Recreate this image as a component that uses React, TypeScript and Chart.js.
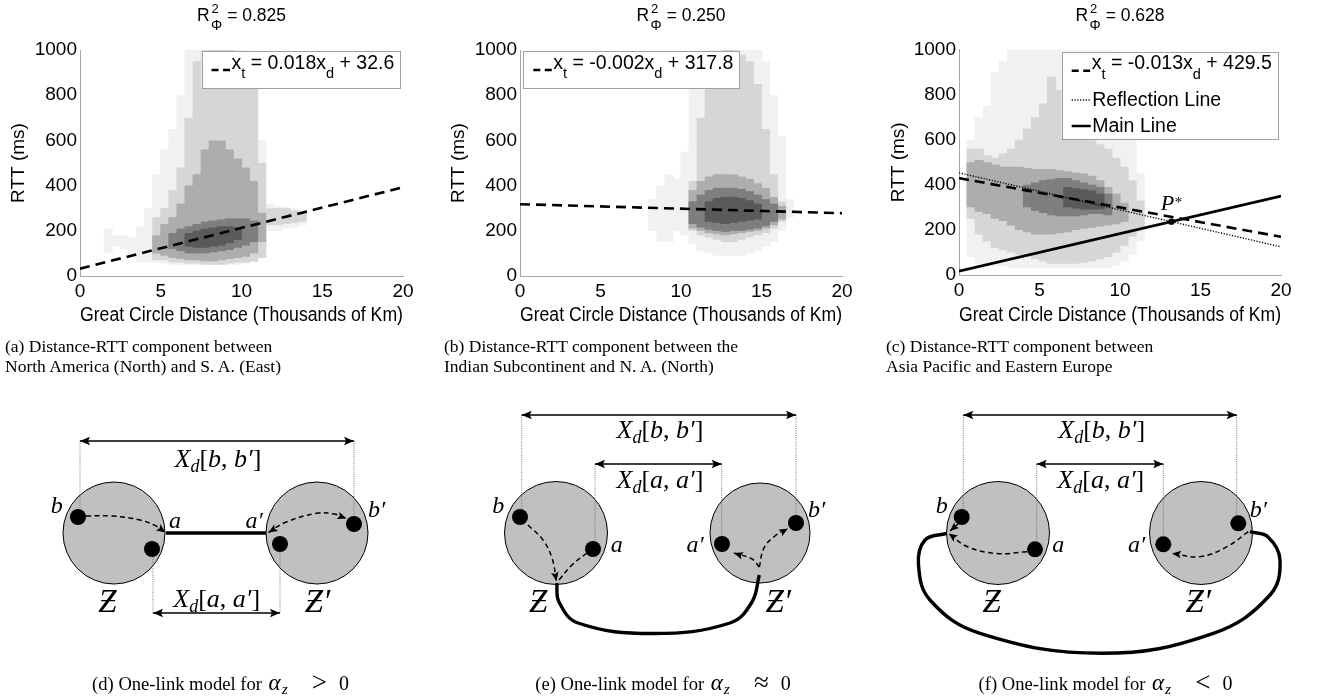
import React, { useEffect, useRef } from 'react';
import { Chart, registerables } from 'chart.js';

Chart.register(...registerables);

const SANS = "'Liberation Sans', Arial, Helvetica, sans-serif";
const SERIF = "'Liberation Serif', 'Times New Roman', 'DejaVu Serif', serif";

// ---------------- top row: data ----------------
const xRange = [0, 20];
const yRange = [0, 1000];
const xTickStep = 5;
const yTickStep = 200;
const xAxisTitle = 'Great Circle Distance (Thousands of Km)';
const yAxisTitle = 'RTT (ms)';

const r2Labels = ['0.825', '0.250', '0.628'];
const fitSlopes = [0.018, -0.002, -0.013];
const fitIntercepts = [32.6, 317.8, 429.5];
const reflectionLine = [[0, 453], [20, 125]];
const mainLine = [[0, 17], [20, 350]];
const pStar = [13.19, 236.6];

// density bins: [bin start (thousands km), low RTT, high RTT]; bin width 0.5
const BIN = 0.5;
type Bin = [number, number, number];

const aSparse: Bin[] = [[1.5, 100, 210], [2.0, 130, 180], [2.5, 120, 180], [3.0, 80, 170], [3.5, 60, 220], [4.0, 60, 300], [4.5, 60, 450], [5.0, 55, 560], [5.5, 50, 650], [6.0, 50, 800], [6.5, 50, 1000], [7.0, 50, 1000], [7.5, 50, 1000], [8.0, 50, 1000], [8.5, 50, 1000], [9.0, 50, 1000], [9.5, 50, 1000], [10.0, 55, 1000], [10.5, 60, 950], [11.0, 90, 600], [11.5, 200, 320], [12.0, 200, 310], [12.5, 210, 305], [13.0, 215, 300], [13.5, 225, 290]];
const aLight: Bin[] = [[4.5, 70, 260], [5.0, 70, 300], [5.5, 60, 380], [6.0, 60, 480], [6.5, 55, 700], [7.0, 55, 950], [7.5, 50, 1000], [8.0, 50, 1000], [8.5, 50, 1000], [9.0, 55, 1000], [9.5, 60, 980], [10.0, 60, 950], [10.5, 65, 900], [11.0, 80, 500], [11.5, 225, 300], [12.0, 225, 300], [12.5, 230, 300], [13.0, 235, 290], [13.5, 240, 285]];
const aMedium: Bin[] = [[4.5, 100, 180], [5.0, 90, 230], [5.5, 80, 260], [6.0, 75, 320], [6.5, 70, 400], [7.0, 70, 450], [7.5, 65, 560], [8.0, 65, 600], [8.5, 70, 600], [9.0, 75, 560], [9.5, 80, 520], [10.0, 85, 480], [10.5, 100, 420], [11.0, 150, 280]];
const aDark: Bin[] = [[5.5, 120, 190], [6.0, 110, 210], [6.5, 100, 220], [7.0, 100, 230], [7.5, 100, 240], [8.0, 105, 245], [8.5, 110, 250], [9.0, 115, 255], [9.5, 125, 255], [10.0, 135, 255], [10.5, 150, 245]];
const aCore: Bin[] = [[6.5, 130, 190], [7.0, 125, 200], [7.5, 125, 210], [8.0, 130, 215], [8.5, 135, 220], [9.0, 145, 220], [9.5, 160, 215]];

const bSparse: Bin[] = [[8.0, 200, 340], [8.5, 150, 400], [9.0, 150, 450], [9.5, 200, 430], [10.0, 180, 550], [10.5, 140, 900], [11.0, 110, 1000], [11.5, 100, 1000], [12.0, 90, 1000], [12.5, 90, 1000], [13.0, 90, 1000], [13.5, 90, 1000], [14.0, 100, 1000], [14.5, 110, 1000], [15.0, 130, 950], [15.5, 150, 800], [16.0, 200, 620], [16.5, 260, 340]];
const bLight: Bin[] = [[10.5, 200, 420], [11.0, 180, 700], [11.5, 170, 850], [12.0, 160, 950], [12.5, 150, 1000], [13.0, 150, 1000], [13.5, 160, 980], [14.0, 170, 950], [14.5, 180, 850], [15.0, 190, 650], [15.5, 210, 450], [16.0, 240, 330]];
const bMedium: Bin[] = [[10.5, 210, 380], [11.0, 200, 420], [11.5, 190, 440], [12.0, 185, 450], [12.5, 180, 450], [13.0, 185, 450], [13.5, 190, 440], [14.0, 195, 430], [14.5, 200, 410], [15.0, 210, 390], [15.5, 225, 350], [16.0, 250, 310]];
const bDark: Bin[] = [[10.5, 230, 330], [11.0, 215, 360], [11.5, 205, 380], [12.0, 200, 390], [12.5, 195, 390], [13.0, 200, 390], [13.5, 200, 385], [14.0, 205, 375], [14.5, 210, 360], [15.0, 220, 340], [15.5, 240, 320]];
const bCore: Bin[] = [[11.5, 240, 330], [12.0, 235, 345], [12.5, 230, 350], [13.0, 235, 350], [13.5, 240, 345], [14.0, 245, 335], [14.5, 250, 320]];

const cSparse: Bin[] = [[0.5, 80, 600], [1.0, 50, 700], [1.5, 50, 750], [2.0, 40, 900], [2.5, 40, 950], [3.0, 30, 1000], [3.5, 30, 1000], [4.0, 30, 1000], [4.5, 30, 1000], [5.0, 30, 1000], [5.5, 30, 1000], [6.0, 30, 1000], [6.5, 30, 1000], [7.0, 30, 1000], [7.5, 30, 1000], [8.0, 30, 1000], [8.5, 30, 1000], [9.0, 30, 1000], [9.5, 40, 900], [10.0, 60, 800], [10.5, 90, 650], [11.0, 150, 450]];
const cLight: Bin[] = [[0.5, 250, 560], [1.0, 180, 560], [1.5, 150, 530], [2.0, 120, 520], [2.5, 110, 540], [3.0, 100, 560], [3.5, 90, 600], [4.0, 80, 650], [4.5, 70, 700], [5.0, 60, 760], [5.5, 50, 880], [6.0, 50, 820], [6.5, 50, 720], [7.0, 50, 660], [7.5, 55, 630], [8.0, 60, 600], [8.5, 70, 580], [9.0, 80, 560], [9.5, 100, 520], [10.0, 130, 480], [10.5, 170, 420], [11.0, 210, 330]];
const cMedium: Bin[] = [[0.5, 300, 500], [1.0, 280, 510], [1.5, 270, 500], [2.0, 250, 490], [2.5, 240, 480], [3.0, 220, 480], [3.5, 200, 480], [4.0, 190, 475], [4.5, 180, 470], [5.0, 180, 470], [5.5, 180, 470], [6.0, 185, 465], [6.5, 190, 460], [7.0, 200, 455], [7.5, 205, 450], [8.0, 210, 440], [8.5, 215, 420], [9.0, 220, 390], [9.5, 225, 360], [10.0, 235, 320]];
const cDark: Bin[] = [[4.0, 300, 400], [4.5, 285, 410], [5.0, 275, 420], [5.5, 265, 425], [6.0, 260, 430], [6.5, 260, 430], [7.0, 260, 420], [7.5, 265, 410], [8.0, 270, 400], [8.5, 270, 390], [9.0, 265, 360]];
const cCore: Bin[] = [[6.5, 300, 390], [7.0, 295, 385], [7.5, 290, 380], [8.0, 290, 375], [8.5, 290, 360]];

const plotLayers = [
  [aSparse, aLight, aMedium, aDark, aCore],
  [bSparse, bLight, bMedium, bDark, bCore],
  [cSparse, cLight, cMedium, cDark, cCore],
];

const topCaptions = [
  ['(a) Distance-RTT component between', 'North America (North) and S. A. (East)'],
  ['(b) Distance-RTT component between the', 'Indian Subcontinent and N. A. (North)'],
  ['(c) Distance-RTT component between', 'Asia Pacific and Eastern Europe'],
];

// ---------------- bottom row: diagram data (diagram units) ----------------
type P = [number, number];
const dCircles = [[114, 143, 51], [317, 143, 51]];
const dDots: P[] = [[78, 127], [152, 159], [280, 154], [354, 134]];
const dLink: P[] = [[166, 143], [266, 143]];
const dDashed: P[][] = [
  [[86, 126], [112, 126], [140, 130], [157, 136.5], [165.5, 142.5]],
  [[268.5, 142.5], [285, 132.5], [316.7, 123.3], [334, 124], [346.5, 128.5]],
];
const dDashedArrows = [[false, true], [true, true]];
const dDims = [[80, 51, 354, 51], [153, 223, 280, 223]];
const dGuides = [[80, 51, 80, 119], [354, 51, 354, 126], [153, 167, 153, 223], [280, 162, 280, 223]];
const dLabels: [string, number, number][] = [['b', 56.7, 123.3], ['a', 175, 138.3], ['a′', 254, 138.3], ['b′', 376.5, 126.7], ['Ƶ', 107.5, 221.7], ['Ƶ′', 317.5, 221.7]];
const dMath: [string, string, number, number][] = [['b', 'b′', 218, 76.7], ['a', 'a′', 216.7, 216.7]];

const eCircles = [[116, 143, 51.5], [320, 143, 50]];
const eDots: P[] = [[80, 127], [153, 159], [282, 154], [356, 133]];
const eLink: P[] = [[116.7, 193], [119, 212], [138, 233], [213, 243.5], [290, 233], [312, 212], [319.3, 185]];
const eDashed: P[][] = [
  [[88, 135], [103, 150], [112, 168], [116.5, 191]],
  [[147, 163], [132, 175], [119, 190]],
  [[319.3, 177], [312, 169], [294, 163]],
  [[319.3, 177], [324, 158], [335, 146], [348, 138.5]],
];
const eDashedArrows = [[false, true], [false, false], [false, true], [false, true]];
const eDims = [[81.7, 25, 356, 25], [155, 74, 281.7, 74]];
const eGuides = [[81.7, 25, 81.7, 119], [356, 25, 356, 125], [155, 74, 155, 151], [281.7, 74, 281.7, 146]];
const eLabels: [string, number, number][] = [['b', 58.3, 123.3], ['a', 176.7, 161.7], ['a′', 255, 161.7], ['b′', 376.7, 126.7], ['Ƶ', 98.3, 221.7], ['Ƶ′', 338.3, 221.7]];
const eMath: [string, string, number, number][] = [['b', 'b′', 220, 48.3], ['a', 'a′', 220, 98.3]];

const fCircles = [[118, 143, 51.5], [321, 143, 51.5]];
const fDots: P[] = [[81.7, 127], [155, 159.3], [283.3, 154.3], [358.3, 133.3]];
const fLink: P[] = [[66.7, 143.3], [45, 150], [38.5, 175], [50, 210], [100, 243.3], [221.7, 263.3], [333.3, 243.3], [390, 205], [400, 170], [388, 147], [370, 141.7]];
const fDashed: P[][] = [
  [[147, 161.7], [117, 163.5], [88, 157], [68.5, 143.5]],
  [[78, 134], [70, 141]],
  [[368.3, 141.7], [347, 156.7], [320, 166.7], [292, 163.5]],
];
const fDashedArrows = [[false, true], [false, true], [false, true]];
const fDims = [[83.3, 25, 356.7, 25], [156.7, 74, 283.3, 74]];
const fGuides = [[83.3, 25, 83.3, 119], [356.7, 25, 356.7, 125], [156.7, 74, 156.7, 151], [283.3, 74, 283.3, 146]];
const fLabels: [string, number, number][] = [['b', 61.7, 123.3], ['a', 178.3, 161.7], ['a′', 256.7, 161.7], ['b′', 378.3, 126.7], ['Ƶ', 111.7, 221.7], ['Ƶ′', 318.3, 221.7]];
const fMath: [string, string, number, number][] = [['b', 'b′', 221.7, 48.3], ['a', 'a′', 220.8, 98.3]];

const bottomCaptions = [
  ['(d) One-link model for ', '>'],
  ['(e) One-link model for ', '≈'],
  ['(f) One-link model for ', '<'],
];

// ---------------- styles / layout ----------------
const densityColors = ['#f1f1f1', '#d6d6d6', '#adadad', '#7e7e7e', '#5a5a5a'];
const plotFrames = [
  { left: 0, axisW: 80, top: 50, padR: 37, axisH: 64, legend: { x: 201.5, y: 51, w: 198, h: 37 } },
  { left: 440, axisW: 80, top: 50, padR: 38, axisH: 64, legend: { x: 83.3, y: 51, w: 216, h: 37 } },
  { left: 880, axisW: 79, top: 49.5, padR: 39, axisH: 65, legend: { x: 181.7, y: 51.7, w: 216, h: 87 } },
];
const diagramLefts = [0, 440, 880];
const diagrams = [
  { circles: dCircles, dots: dDots, link: dLink, dashed: dDashed, arrows: dDashedArrows, dims: dDims, guides: dGuides, labels: dLabels, math: dMath },
  { circles: eCircles, dots: eDots, link: eLink, dashed: eDashed, arrows: eDashedArrows, dims: eDims, guides: eGuides, labels: eLabels, math: eMath },
  { circles: fCircles, dots: fDots, link: fLink, dashed: fDashed, arrows: fDashedArrows, dims: fDims, guides: fGuides, labels: fLabels, math: fMath },
];

// ---------------- helpers ----------------
type Run = { t: string; size: number; dy?: number; italic?: boolean; fam?: string };
const fontOf = (r: Run) => `${r.italic ? 'italic ' : ''}${r.size}px ${r.fam || SANS}`;
function runsWidth(ctx: CanvasRenderingContext2D, runs: Run[]) {
  let w = 0;
  for (const r of runs) { ctx.font = fontOf(r); w += ctx.measureText(r.t).width; }
  return w;
}
function drawRuns(ctx: CanvasRenderingContext2D, x: number, y: number, runs: Run[]) {
  for (const r of runs) {
    ctx.font = fontOf(r);
    ctx.fillText(r.t, x, y + (r.dy || 0));
    x += ctx.measureText(r.t).width;
  }
  return x;
}
function sampleLine(ctx: CanvasRenderingContext2D, x1: number, x2: number, y: number, dash: number[], w: number) {
  ctx.save();
  ctx.strokeStyle = '#000';
  ctx.lineWidth = w;
  ctx.setLineDash(dash);
  ctx.beginPath();
  ctx.moveTo(x1, y);
  ctx.lineTo(x2, y);
  ctx.stroke();
  ctx.restore();
}

function makeDecor(i: number) {
  return {
    id: 'decor' + i,
    afterDraw(chart: any) {
      const ctx: CanvasRenderingContext2D = chart.ctx;
      const ca = chart.chartArea;
      ctx.save();
      ctx.fillStyle = '#000';
      ctx.textAlign = 'left';
      ctx.textBaseline = 'alphabetic';
      // title R^2_Phi = value
      const base = 20.7;
      const main = 17.5;
      ctx.font = `${main}px ${SANS}`;
      const wR = ctx.measureText('R').width;
      const rest = ' = ' + r2Labels[i];
      const wRest = ctx.measureText(rest).width;
      ctx.font = `14px ${SANS}`;
      const wS = ctx.measureText('Φ').width;
      let x = (ca.left + ca.right) / 2 - (wR + 1.5 + wS + wRest) / 2;
      ctx.font = `${main}px ${SANS}`;
      ctx.fillText('R', x, base);
      x += wR + 1.5;
      ctx.font = `13px ${SANS}`;
      ctx.fillText('2', x + 0.5, base - 7.5);
      ctx.font = `14px ${SANS}`;
      ctx.fillText('Φ', x, base + 9);
      x += wS;
      ctx.font = `${main}px ${SANS}`;
      ctx.fillText(rest, x, base);

      // legend box
      const lg = plotFrames[i].legend;
      ctx.fillStyle = '#fff';
      ctx.fillRect(lg.x, lg.y, lg.w, lg.h);
      ctx.strokeStyle = '#a0a0a0';
      ctx.lineWidth = 1;
      ctx.strokeRect(Math.round(lg.x) + 0.5, Math.round(lg.y) + 0.5, Math.round(lg.w), Math.round(lg.h));
      ctx.fillStyle = '#000';
      sampleLine(ctx, lg.x + 10, lg.x + 28.5, lg.y + 19, [7, 4.5], 2.5);
      drawRuns(ctx, lg.x + 30, lg.y + 17.5, [
        { t: 'x', size: 19.5 },
        { t: 't', size: 14.5, dy: 9.5 },
        { t: ` = ${fitSlopes[i].toFixed(3)}x`, size: 19.5 },
        { t: 'd', size: 14.5, dy: 9.5 },
        { t: ` + ${fitIntercepts[i].toFixed(1)}`, size: 19.5 },
      ]);
      if (i === 2) {
        sampleLine(ctx, lg.x + 10, lg.x + 29, lg.y + 48.3, [1.2, 1.6], 1.5);
        drawRuns(ctx, lg.x + 30.5, lg.y + 54.3, [{ t: 'Reflection Line', size: 19.5 }]);
        sampleLine(ctx, lg.x + 10, lg.x + 29, lg.y + 74.3, [], 2.5);
        drawRuns(ctx, lg.x + 30.5, lg.y + 80.3, [{ t: 'Main Line', size: 19.5 }]);
        // P* label
        const px = chart.scales.x.getPixelForValue(pStar[0]);
        const py = chart.scales.y.getPixelForValue(pStar[1]);
        const xe = drawRuns(ctx, px - 10.5, py - 12, [{ t: 'P', size: 22, italic: true, fam: SERIF }]);
        drawRuns(ctx, xe + 0.5, py - 15, [{ t: '*', size: 15, fam: SERIF }]);
      }
      ctx.restore();
    },
  };
}

function makeScatterConfig(i: number): any {
  const fr = plotFrames[i];
  const fitY = (x: number) => fitSlopes[i] * 1000 * x + fitIntercepts[i];
  const datasets: any[] = [];
  datasets.push({
    type: 'line', data: xRange.map((x) => ({ x, y: fitY(x) })),
    borderColor: '#000', borderWidth: 2.6, borderDash: [10, 6], pointRadius: 0, order: 0,
  });
  if (i === 2) {
    datasets.push({
      type: 'line', data: reflectionLine.map(([x, y]) => ({ x, y })),
      borderColor: '#000', borderWidth: 1.4, borderDash: [1.2, 1.6], pointRadius: 0, order: 1,
    });
    datasets.push({
      type: 'line', data: mainLine.map(([x, y]) => ({ x, y })),
      borderColor: '#000', borderWidth: 2.6, pointRadius: 0, order: 0,
    });
    datasets.push({
      type: 'scatter', data: [{ x: pStar[0], y: pStar[1] }],
      pointRadius: 3.2, backgroundColor: '#000', borderWidth: 0, order: -1,
    });
  }
  plotLayers[i].forEach((layer, k) => {
    datasets.push({
      type: 'bar',
      data: layer.map(([x0, lo, hi]) => ({ x: x0 + BIN / 2, y: [lo, hi] })),
      backgroundColor: densityColors[k], borderWidth: 0, grouped: false,
      barPercentage: 1.12, categoryPercentage: 1, order: 20 - k,
    });
  });
  const tickFont = { family: SANS, size: 19 };
  return {
    type: 'scatter',
    data: { datasets },
    options: {
      responsive: false,
      animation: false,
      events: [],
      layout: { autoPadding: false, padding: { left: 0, top: fr.top, right: fr.padR, bottom: 0 } },
      plugins: { legend: { display: false }, tooltip: { enabled: false } },
      scales: {
        x: {
          type: 'linear', min: xRange[0], max: xRange[1], offset: false,
          afterFit: (s: any) => { s.height = fr.axisH; },
          ticks: { stepSize: xTickStep, color: '#000', font: tickFont, padding: 4, maxRotation: 0, autoSkip: false, callback: (v: any) => String(v) },
          grid: { display: true, drawOnChartArea: false, drawTicks: false },
          border: { display: true, color: '#a6a6a6', width: 1 },
          title: { display: true, text: xAxisTitle, color: '#000', font: { family: SANS, size: 19.6 }, padding: { top: 0, bottom: 13 } },
        },
        y: {
          type: 'linear', min: yRange[0], max: yRange[1],
          afterFit: (s: any) => { s.width = fr.axisW; },
          ticks: { stepSize: yTickStep, color: '#000', font: tickFont, padding: 3, callback: (v: any) => String(v) },
          grid: { display: true, drawOnChartArea: false, drawTicks: false },
          border: { display: true, color: '#a6a6a6', width: 1 },
          title: { display: true, text: yAxisTitle, color: '#000', font: tickFont, padding: { top: 7, bottom: 0 } },
        },
      },
    },
    plugins: [makeDecor(i)],
  };
}

function arrowHead(ctx: CanvasRenderingContext2D, x: number, y: number, ang: number, len: number) {
  ctx.save();
  ctx.translate(x, y);
  ctx.rotate(ang);
  ctx.beginPath();
  ctx.moveTo(0, 0);
  ctx.lineTo(-len, -len * 0.42);
  ctx.lineTo(-len * 0.8, 0);
  ctx.lineTo(-len, len * 0.42);
  ctx.closePath();
  ctx.fillStyle = '#000';
  ctx.fill();
  ctx.restore();
}

const arrowPlugin = {
  id: 'arrowheads',
  afterDatasetsDraw(chart: any) {
    const ctx: CanvasRenderingContext2D = chart.ctx;
    chart.data.datasets.forEach((ds: any, i: number) => {
      if (!ds.arrowStart && !ds.arrowEnd) return;
      const pts = chart.getDatasetMeta(i).data as any[];
      const n = pts.length;
      const size = ds.arrowSize || 9;
      if (ds.arrowEnd) {
        const p = pts[n - 1];
        let q: any = { x: p.cp1x, y: p.cp1y };
        if (q.x == null || (Math.abs(q.x - p.x) < 0.3 && Math.abs(q.y - p.y) < 0.3)) q = pts[n - 2];
        arrowHead(ctx, p.x, p.y, Math.atan2(p.y - q.y, p.x - q.x), size);
      }
      if (ds.arrowStart) {
        const p = pts[0];
        let q: any = { x: p.cp2x, y: p.cp2y };
        if (q.x == null || (Math.abs(q.x - p.x) < 0.3 && Math.abs(q.y - p.y) < 0.3)) q = pts[1];
        arrowHead(ctx, p.x, p.y, Math.atan2(p.y - q.y, p.x - q.x), size);
      }
    });
  },
};

function makeDiagramLabels(d: any) {
  return {
    id: 'diagLabels',
    afterDatasetsDraw(chart: any) {
      const ctx: CanvasRenderingContext2D = chart.ctx;
      const sx = chart.scales.x;
      const sy = chart.scales.y;
      ctx.save();
      ctx.fillStyle = '#000';
      ctx.textBaseline = 'alphabetic';
      ctx.textAlign = 'left';
      d.labels.forEach(([t, x, y]: [string, number, number]) => {
        const size = t.startsWith('Ƶ') ? 33 : 24;
        const runs: Run[] = [{ t, size, italic: true, fam: SERIF }];
        const w = runsWidth(ctx, runs);
        drawRuns(ctx, sx.getPixelForValue(x) - w / 2, sy.getPixelForValue(y), runs);
      });
      d.math.forEach(([p, q, x, y]: [string, string, number, number]) => {
        const runs: Run[] = [
          { t: 'X', size: 26, italic: true, fam: SERIF },
          { t: 'd', size: 18, dy: 5, italic: true, fam: SERIF },
          { t: '[', size: 26, fam: SERIF },
          { t: p, size: 26, italic: true, fam: SERIF },
          { t: ', ', size: 26, fam: SERIF },
          { t: q, size: 26, italic: true, fam: SERIF },
          { t: ']', size: 26, fam: SERIF },
        ];
        const w = runsWidth(ctx, runs);
        drawRuns(ctx, sx.getPixelForValue(x) - w / 2, sy.getPixelForValue(y), runs);
      });
      ctx.restore();
    },
  };
}

const toXY = (pts: P[]) => pts.map(([x, y]) => ({ x, y }));

function makeDiagramConfig(k: number): any {
  const d = diagrams[k];
  const datasets: any[] = [];
  datasets.push({
    type: 'bubble', data: d.circles.map(([x, y, r]) => ({ x, y, r })),
    backgroundColor: '#c0c0c0', borderColor: '#000', borderWidth: 1, order: 10,
  });
  d.guides.forEach(([x1, y1, x2, y2]) => datasets.push({
    type: 'line', data: [{ x: x1, y: y1 }, { x: x2, y: y2 }],
    borderColor: '#6a6a6a', borderWidth: 0.9, borderDash: [1, 1.2], pointRadius: 0, order: 8,
  }));
  d.dims.forEach(([x1, y1, x2, y2]) => datasets.push({
    type: 'line', data: [{ x: x1, y: y1 }, { x: x2, y: y2 }],
    borderColor: '#000', borderWidth: 1.6, pointRadius: 0, order: 5,
    arrowStart: true, arrowEnd: true, arrowSize: 10,
  }));
  datasets.push({
    type: 'line', data: toXY(d.link), borderColor: '#000', borderWidth: 3.4,
    tension: 0.4, pointRadius: 0, order: 4,
  });
  d.dashed.forEach((pts, j) => datasets.push({
    type: 'line', data: toXY(pts), borderColor: '#000', borderWidth: 1.5,
    borderDash: [5, 3.5], tension: 0.4, pointRadius: 0, order: 3,
    arrowStart: d.arrows[j][0], arrowEnd: d.arrows[j][1], arrowSize: 9,
  }));
  datasets.push({
    type: 'scatter', data: toXY(d.dots), pointRadius: 8,
    backgroundColor: '#000', borderWidth: 0, order: 1,
  });
  return {
    type: 'scatter',
    data: { datasets },
    options: {
      responsive: false,
      animation: false,
      events: [],
      layout: { autoPadding: false, padding: 0 },
      plugins: { legend: { display: false }, tooltip: { enabled: false } },
      scales: {
        x: { type: 'linear', min: 0, max: 440, display: false },
        y: { type: 'linear', min: 0, max: 300, reverse: true, display: false },
      },
    },
    plugins: [arrowPlugin, makeDiagramLabels(d)],
  };
}

function ChartCanvas({ left, top, width, height, make }: { left: number; top: number; width: number; height: number; make: () => any }) {
  const ref = useRef<HTMLCanvasElement>(null);
  useEffect(() => {
    const chart = new Chart(ref.current as HTMLCanvasElement, make());
    return () => chart.destroy();
  }, []);
  return (
    <canvas ref={ref} width={width} height={height}
      style={{ position: 'absolute', left, top, width, height, display: 'block' }} />
  );
}

const topCaptionLefts = [5, 444, 886];
const bottomCaptionCenters = [220.5, 663, 1105.5];

export default function App() {
  return (
    <div style={{ position: 'fixed', left: 0, top: 0, width: 1320, height: 698, background: '#fff', overflow: 'hidden' }}>
      {plotFrames.map((fr, i) => (
        <ChartCanvas key={'p' + i} left={fr.left} top={0} width={440} height={340} make={() => makeScatterConfig(i)} />
      ))}
      {diagramLefts.map((l, k) => (
        <ChartCanvas key={'d' + k} left={l} top={390} width={440} height={300} make={() => makeDiagramConfig(k)} />
      ))}
      {topCaptions.map((lines, i) => (
        <div key={'tc' + i} style={{
          position: 'absolute', left: topCaptionLefts[i], top: 337, fontFamily: SERIF,
          fontSize: 17.5, lineHeight: '19.5px', whiteSpace: 'nowrap', color: '#000',
        }}>
          <div>{lines[0]}</div>
          <div>{lines[1]}</div>
        </div>
      ))}
      {bottomCaptions.map(([txt, rel], i) => (
        <div key={'bc' + i} style={{
          position: 'absolute', left: bottomCaptionCenters[i] - 200, width: 400, top: 671.5,
          textAlign: 'center', fontFamily: SERIF, fontSize: 18.6, lineHeight: '18px', whiteSpace: 'nowrap', color: '#000',
        }}>
          {txt}
          <span style={{ fontStyle: 'italic', fontSize: 23, marginLeft: 2, marginRight: 1 }}>α</span>
          <span style={{ fontStyle: 'italic', fontSize: 15.5, position: 'relative', top: 4, marginRight: 4 }}>z</span>
          <span style={{ fontSize: 27, margin: '0 12px 0 20px', position: 'relative', top: 1 }}>{rel}</span>
          <span style={{ fontSize: 20 }}>0</span>
        </div>
      ))}
    </div>
  );
}
